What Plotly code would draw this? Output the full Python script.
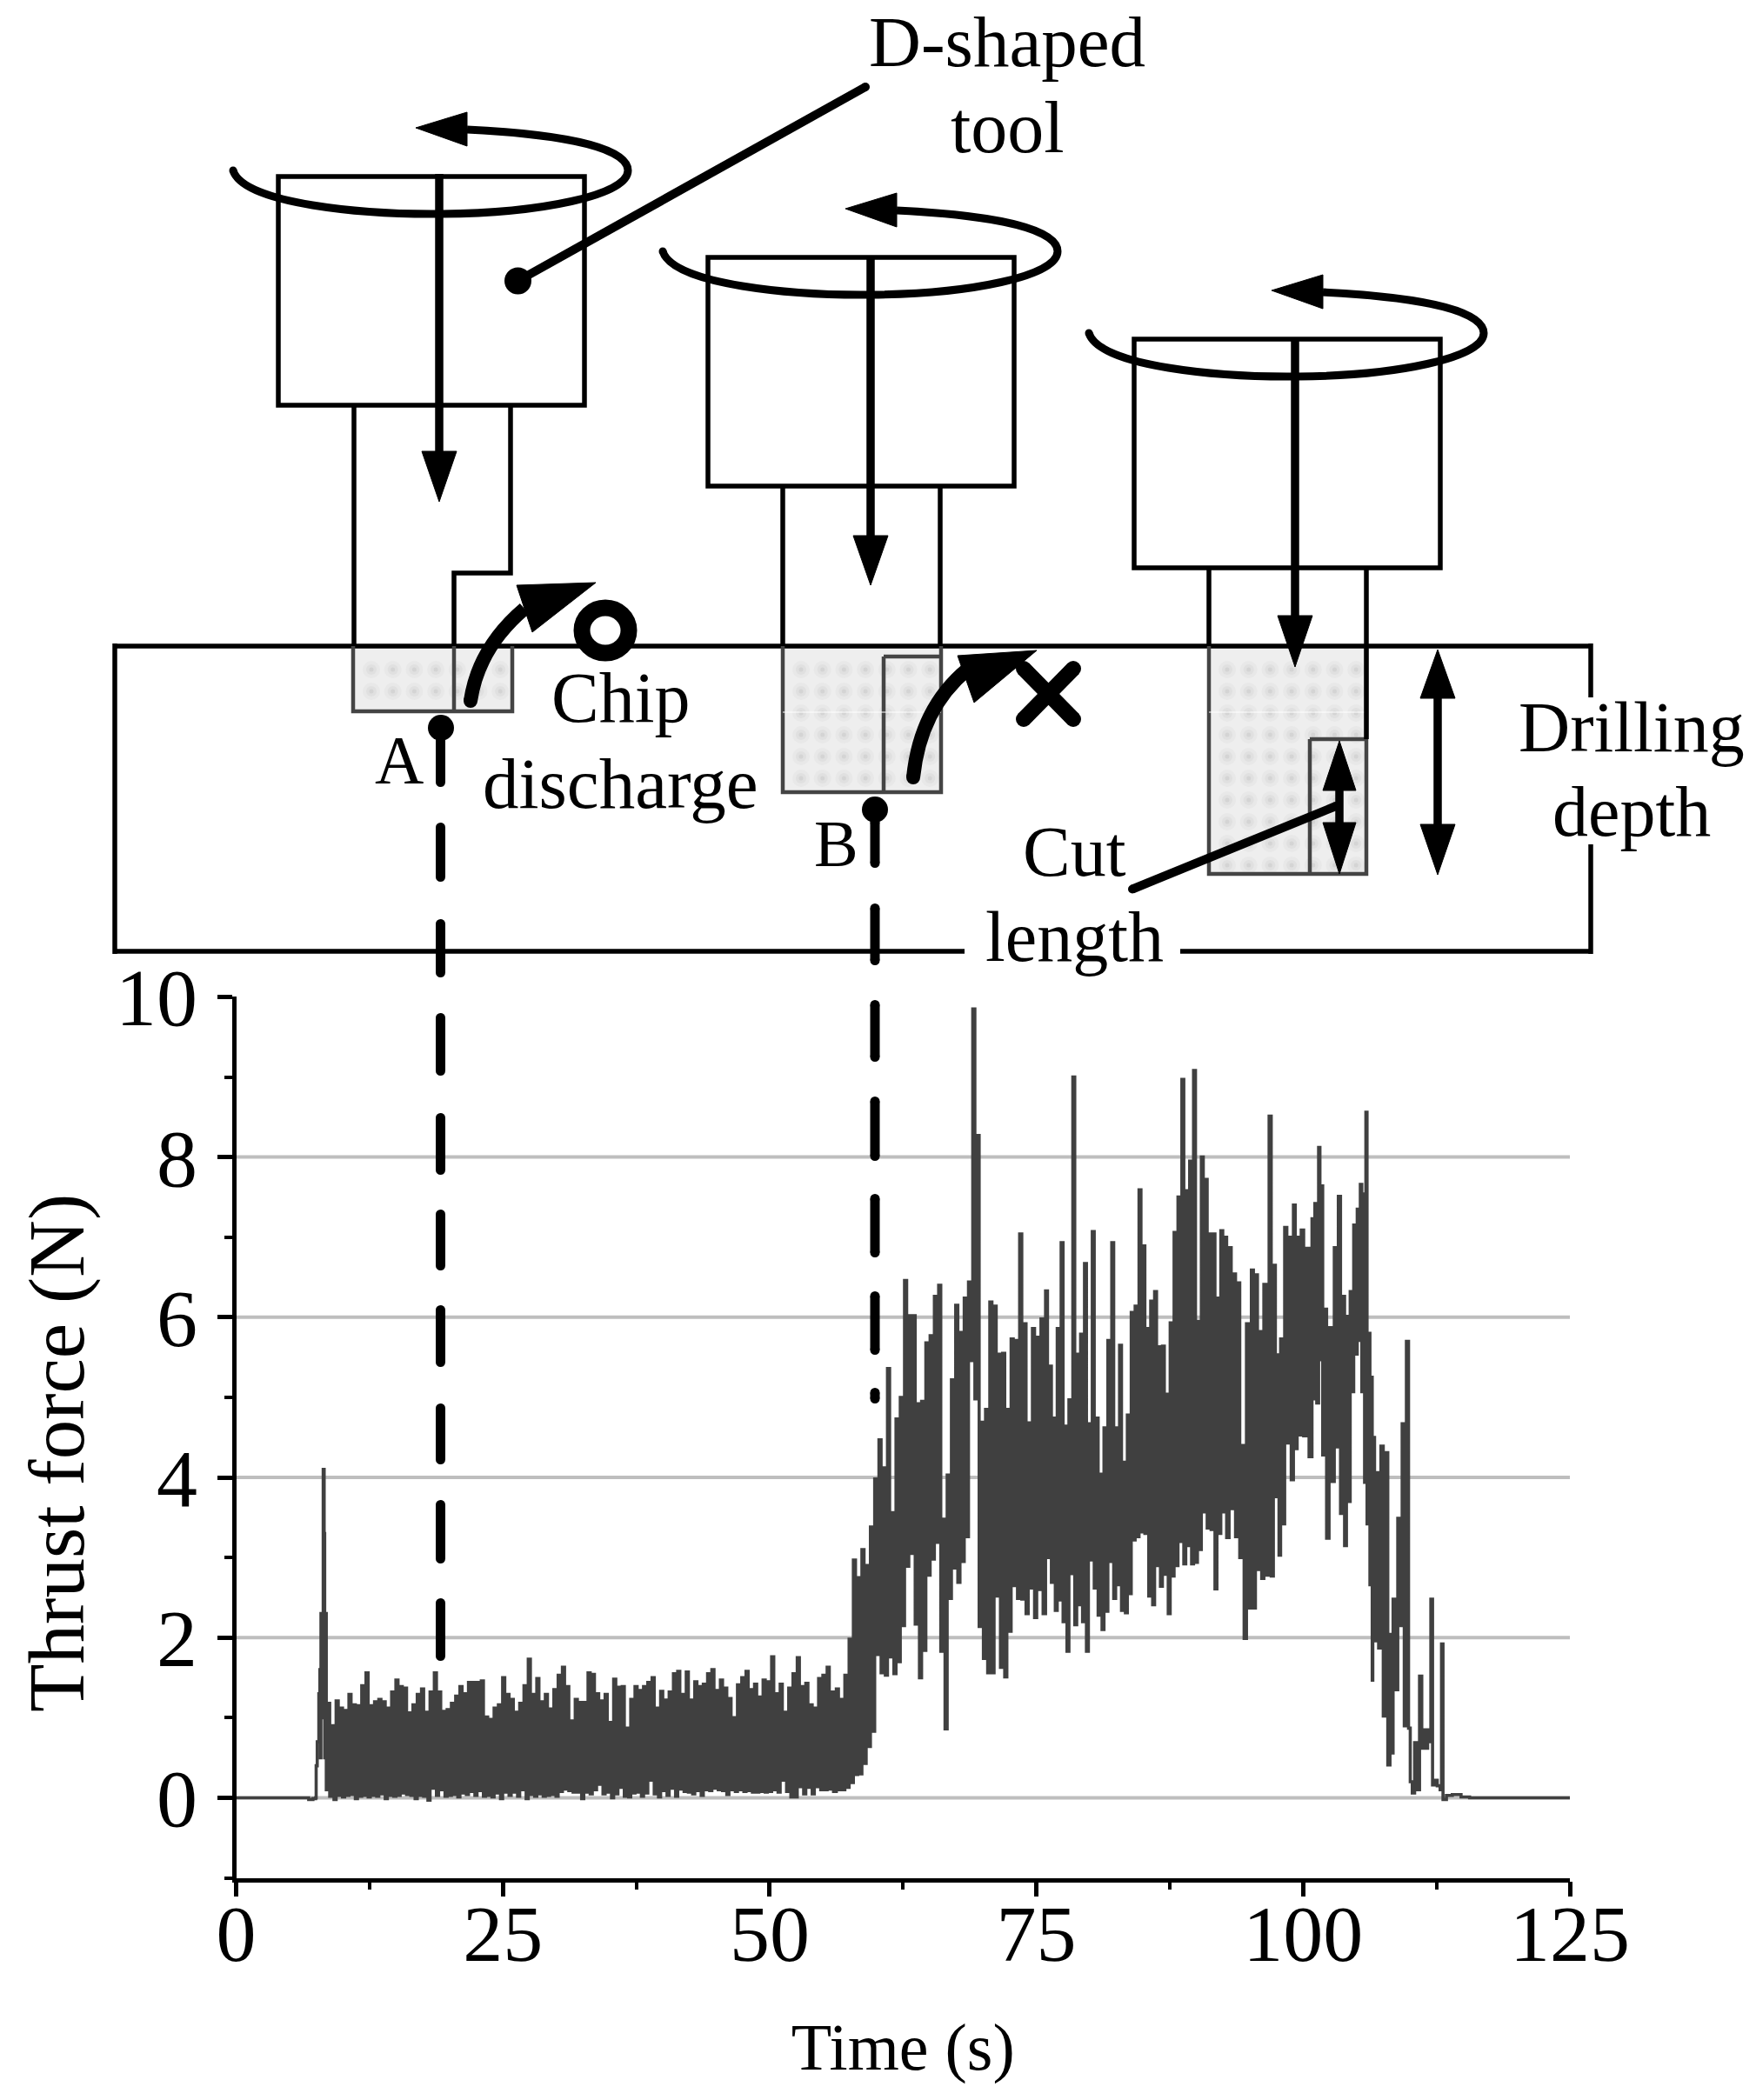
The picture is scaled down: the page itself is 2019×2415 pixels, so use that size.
import numpy as np
import plotly.graph_objects as go

# ---------- chart data ----------
lead_t = [0, 6.3, 6.8, 7.2, 7.45, 7.5, 7.6, 7.75, 7.85, 7.9, 7.95, 8.05, 8.16, 8.25, 8.3, 8.36, 8.45]
lead_f = [0, 0, -0.02, -0.01, 0, 0.4, 0.7, 1.3, 1.6, 0.5, 2.3, 1.0, 4.1, 3.3, 0.5, 2.3, 0.1]

steady_hi = [1.18, .9, 1.21, 1.12, 1.09, 1.29, 1.16, 1.15, 1.4, 1.56, 1.15, 1.2, 1.23, 1.2, 1.12, 1.32, 1.47, 1.39,
             1.37, 1.06, 1.16, 1.29, 1.36, 1.07, 1.32, 1.56, 1.32, 1.08, 1.1, 1.18, 1.27, 1.39, 1.3, 1.44, 1.44, 1.44,
             1.46, 1.01, .98, 1.12, 1.16, 1.5, 1.29, 1.23, 1.07, 1.18, 1.4, 1.73, 1.29, 1.49, 1.2, 1.29, 1.11, 1.35,
             1.53, 1.63,
             1.39, .96, 1.23, 1.19, 1.19, 1.56, 1.54, 1.3, 1.21, 1.29, .94, 1.48, 1.38, 1.39, .87, 1.23, 1.39, 1.34,
             1.39, 1.44, 1.5, 1.12, 1.33, 1.22, 1.32, 1.55, 1.58, 1.29, 1.57, 1.22, 1.45, 1.39, 1.42, 1.55, 1.6, 1.34,
             1.47, 1.37, 1.24, 1.0, 1.41, 1.5, 1.58, 1.35, 1.42, 1.26, 1.47, 1.45, 1.76, 1.3, 1.42, 1.07, 1.37, 1.55,
             1.75, 1.39, 1.43, 1.16, 1.12, 1.49, 1.53, 1.63, 1.32]
steady_lo = [.02, -.02, .03, .01, .03, .04, -.01, .02, .03, .01, .03, .02, .05, -.01, .03, .02, .03, .06,
             .04, .03, -.01, .03, .02, -.03, .12, .03, .1, .02, .03, .04, .01, .06, .04, .08, .03, .09,
             .02, .03, .01, .06, -.01, .07, .03, .07, .02, .1, -.01, .04, .02, .05, .02, .03, .04, .02,
             .08, .11,
             .09, .07, .07, -.01, .07, .05, .1, .17, .05, .07, 0, .05, .13, .02, .01, .06, .07, .02,
             .06, .22, .05, .01, .09, .03, .12, .02, .11, .08, .07, .05, .09, .03, .1, .09, .12, .1,
             .09, .04, .1, .08, .1, .08, .09, .07, .07, .08, .07, .08, .1, .07, .22, .08, .01, .01,
             .14, .05, .13, .05, .14, .1, .1, .11, .08]

rise_hi = [1.36, 1.23, 1.53, 1.98, 2.97, 2.75, 3.1, 2.9, 3.38, 3.98, 4.47, 4.12, 5.36, 3.56, 4.73, 5.0, 6.46, 6.02,
           6.02, 4.92, 4.95, 5.68, 5.77, 6.26, 6.4, 3.48, 4.03, 5.22, 6.15, 5.81, 6.24, 6.44, 9.85, 8.27, 4.69, 4.85,
           6.19, 6.14, 5.54, 5.55, 4.85, 5.73, 5.71, 7.04, 5.92, 4.68, 5.86, 5.75, 5.98]
rise_lo = [.1, .1, .13, .19, .29, .3, .43, .64, .83, 1.79, 1.56, 1.53, 1.76, 1.55, 1.7, 2.15, 2.89, 3.05,
           2.17, 1.5, 1.84, 2.78, 2.98, 3.19, 1.83, .86, 2.49, 2.87, 2.69, 2.95, 3.26, 5.46, 4.98, 2.14, 1.74, 1.56,
           1.56, 2.52, 1.63, 1.51, 2.08, 2.65, 2.49, 2.48, 2.3, 2.62, 2.25, 2.6, 2.3]

mid_hi = [6.33, 5.39, 4.74, 5.86, 6.93, 4.64, 4.97, 9.0, 5.54, 5.79, 6.67, 4.67, 7.07, 4.74, 4.04, 4.62, 5.71, 6.93,
          4.62, 5.65, 4.19, 4.78, 6.06, 6.14, 7.59, 6.89, 5.86, 6.2, 6.32, 5.63, 5.64, 5.04, 5.93, 7.06, 7.5, 8.97,
          7.58, 7.95, 9.08, 5.95, 8.0, 7.72, 7.04, 7.04, 6.24, 7.08, 7.0]
mid_lo = [3.0, 2.69, 2.34, 2.47, 2.2, 1.83, 2.8, 2.16, 2.41, 2.2, 1.83, 2.97, 2.62, 2.28, 2.1, 2.33, 2.95, 2.49,
          2.66, 2.34, 2.31, 2.55, 3.22, 3.26, 3.32, 3.3, 2.52, 2.41, 2.9, 2.64, 2.79, 2.3, 2.77, 2.9, 3.2, 2.92,
          3.15, 2.92, 2.94, 3.1, 3.57, 3.37, 3.35, 2.61, 3.3, 3.57, 3.25]

late_t = [93.06, 93.46, 93.87, 94.25, 94.69, 95.15, 95.53, 95.91, 96.32, 96.81, 97.21, 97.59, 97.89, 98.27, 98.68,
          99.09, 99.44, 99.82, 100.28, 100.83, 101.10, 101.45, 101.70, 101.97, 102.43, 102.92, 103.30, 103.71, 104.06,
          104.41, 104.74, 105.07, 105.36, 105.64, 105.88, 106.10, 106.42, 106.53, 106.86, 107.29, 107.73, 108.14,
          108.43, 108.87, 109.28, 109.68]
late_hi = [6.87, 6.54, 6.43, 4.4, 5.92, 6.59, 6.53, 5.82, 6.41, 8.51, 6.65, 5.53, 5.73, 7.12, 7.0, 7.4, 7.0, 7.09,
           6.86, 7.23, 7.42, 8.12, 7.64, 6.1, 5.87, 6.87, 7.51, 6.26, 6.01, 6.32, 7.15, 7.35, 7.66, 7.54, 8.56, 5.8,
           5.25, 4.5, 4.06, 4.39, 4.31, 2.04, 2.48, 3.49, 4.67, 5.7]
late_lo = [3.61, 3.26, 3.0, 1.99, 2.37, 2.37, 2.85, 2.74, 2.78, 2.77, 3.76, 3.03, 3.42, 4.43, 3.97, 4.36, 4.53, 4.52,
           4.26, 4.98, 4.93, 5.47, 4.28, 3.24, 3.95, 4.38, 3.55, 3.15, 3.7, 5.07, 5.54, 5.71, 5.07, 3.94, 3.42, 2.66,
           1.47, 1.96, 1.87, 1.02, .41, .56, 1.35, 2.15, .9, .87]

tail_t = [110.04, 110.23, 110.45, 110.72, 110.91, 111.12, 111.31, 111.53, 111.67, 111.8, 111.97, 112.13, 112.35,
          112.57, 112.84, 112.97, 113.11, 113.43, 113.98, 114.8, 115.6, 125]
tail_f = [.2, .06, .69, .1, 1.52, .62, .85, .62, .85, .7, 2.48, .16, .22, .15, .1, 1.92, -.02, .03, .04, .01, 0, 0]

x_ticks_major = 25
y_ticks_major = 2
grid_values = [0, 2, 4, 6, 8]


def zigzag(t, hi, lo):
    xs, ys = [], []
    n = len(t)
    for i in range(n):
        step = (t[i + 1] - t[i]) if i + 1 < n else (t[i] - t[i - 1])
        xs += [t[i], t[i] + step / 2]
        ys += [hi[i], lo[i]]
    return xs, ys


parts = [(lead_t, lead_f),
         zigzag(list(np.linspace(8.57, 55.79, len(steady_hi))), steady_hi, steady_lo),
         zigzag(list(np.linspace(56.25, 75.43, len(rise_hi))), rise_hi, rise_lo),
         zigzag(list(np.linspace(75.86, 92.65, len(mid_hi))), mid_hi, mid_lo),
         zigzag(late_t, late_hi, late_lo),
         (tail_t, tail_f)]
time_s = [v for p in parts for v in p[0]]
thrust = [v for p in parts for v in p[1]]

W, H = 2019, 2415
FONT = "Liberation Serif"
L, R, T, B = 271.5, 1805, 1146.4, 2159.6
fig = go.Figure()
fig.add_trace(go.Scatter(x=time_s, y=thrust, mode="lines", line=dict(color="#404040", width=3.6, shape="hv"),
                         showlegend=False, hoverinfo="skip", xaxis="x", yaxis="y"))

for v in grid_values:
    fig.add_shape(type="line", xref="x domain", yref="y", x0=0, x1=1, y0=v, y1=v,
                  line=dict(color="#BEBEBE", width=4), layer="below")

shapes = []
LW = 5.5


def S(**k):
    k.setdefault("xref", "x2")
    k.setdefault("yref", "y2")
    k.setdefault("layer", "above")
    shapes.append(k)


def seg(x0, y0, x1, y1, w=LW, color="black", caps=False):
    S(type="line", x0=x0, y0=y0, x1=x1, y1=y1, line=dict(color=color, width=w))
    if caps:
        for a, b in ((x0, y0), (x1, y1)):
            S(type="circle", x0=a - w / 2, x1=a + w / 2, y0=b - w / 2, y1=b + w / 2,
              fillcolor=color, line=dict(width=0))


def tri(*p):
    path = "M " + " L ".join(f"{a},{b}" for a, b in p) + " Z"
    S(type="path", path=path, fillcolor="black", line=dict(color="black", width=1))


def dot(x, y, r):
    S(type="circle", x0=x - r, x1=x + r, y0=y - r, y1=y + r, fillcolor="black", line=dict(width=0))


def rect(x0, y0, x1, y1, w=LW):
    S(type="rect", x0=x0, y0=y0, x1=x1, y1=y1, line=dict(color="black", width=w))


def tool(dx, dy):
    rect(320 + dx, 203 + dy, 672 + dx, 466 + dy)
    S(type="path",
      path=f"M {268+dx},{196+dy} C {280+dx},{235+dy} {420+dx},{247+dy} {508+dx},{246+dy} "
           f"C {620+dx},{245+dy} {722+dx},{225+dy} {722+dx},{196+dy} "
           f"C {722+dx},{165+dy} {620+dx},{153+dy} {537+dx},{149+dy}",
      line=dict(color="black", width=9))
    dot(268 + dx, 196 + dy, 4.5)
    tri((478 + dx, 147 + dy), (537 + dx, 129 + dy), (537 + dx, 168 + dy))


def hole(x0, x1, bottom):
    S(type="rect", x0=x0, x1=x1, y0=743, y1=bottom, fillcolor="#EEEEEE", line=dict(width=0), layer="below")


def v_arrow(x, y0, tip, base, hw=20, w=9.5):
    seg(x, y0, x, base, w)
    tri((x - hw, base), (x + hw, base), (x, tip))


# work piece
seg(132, 743, 1829, 743)
seg(132, 1094, 1109, 1094)
seg(1357, 1094, 1829, 1094)
seg(132, 740, 132, 1097)
seg(1829, 740, 1829, 802)
seg(1829, 971, 1829, 1097)

# holes
hole(406, 589, 818)
hole(900, 1082, 911)
hole(1390, 1571, 1005)
GR = "#444444"
for x0, x1, b in ((406, 589, 818), (900, 1082, 911), (1390, 1571, 1005)):
    S(type="path", path=f"M {x0},743 L {x0},{b} L {x1},{b} L {x1},743", line=dict(color=GR, width=4.5))
seg(522, 743, 522, 818, 4.5, GR)
seg(1016, 755, 1016, 911, 4.5, GR)
seg(1016, 755, 1082, 755, 4.5, GR)
seg(1506, 850, 1506, 1005, 4.5, GR)
seg(1506, 850, 1571, 850, 4.5, GR)
seg(900, 819, 1082, 819, 1, "white")
seg(1390, 819, 1571, 819, 1, "white")

# tools
tool(0, 0)
tool(494, 93)
tool(984, 187)
seg(407, 466, 407, 743)
S(type="path", path="M 587,466 L 587,659 L 522,659 L 522,743", line=dict(color="black", width=LW))
seg(900, 559, 900, 743)
seg(1081, 559, 1081, 743)
seg(1390, 653, 1390, 743)
seg(1571, 653, 1571, 850)

# feed arrows
v_arrow(505, 200, 577, 519)
v_arrow(1001, 296, 673, 616)
v_arrow(1489, 389, 767, 708)

# chip arrows
S(type="path", path="M 541,806 Q 550,745 603,700", line=dict(color="black", width=16))
dot(541, 806, 8)
tri((685, 670), (594, 673), (612, 727))
S(type="path", path="M 1050,894 Q 1058,815 1112,770", line=dict(color="black", width=16))
dot(1050, 894, 8)
tri((1192, 748), (1101, 754), (1120, 808))

# good / bad marks
S(type="circle", x0=669, x1=723, y0=699, y1=751, fillcolor="white", line=dict(color="black", width=19))
seg(1177, 769, 1234, 827, 18, caps=True)
seg(1234, 769, 1177, 827, 18, caps=True)

# leaders
dot(595.5, 323, 15.5)
seg(595.5, 323, 995, 100, 10, caps=True)
seg(1302, 1022.5, 1536, 927, 10, caps=True)

# A / B dashed guides
dot(507, 837, 15)
dot(1006, 931, 15)
dashes_a = [(846, 905), (946, 1014), (1057, 1124), (1165, 1237), (1280, 1351), (1391, 1461), (1501, 1572),
            (1614, 1684), (1725, 1798), (1838, 1910)]
dashes_b = [(940, 998), (1039, 1110), (1150, 1221), (1261, 1335), (1373, 1446), (1485, 1558), (1596, 1614)]
for a, b in dashes_a:
    seg(506.5, a + 5.5, 506.5, b - 5.5, 11, caps=True)
for a, b in dashes_b:
    seg(1006, a + 5.5, 1006, b - 5.5, 11, caps=True)

# double arrows
seg(1653, 803, 1653, 948, 9.5)
tri((1633, 803), (1673, 803), (1653, 747))
tri((1633, 948), (1673, 948), (1653, 1006))
seg(1540, 909, 1540, 946, 9.5)
tri((1521, 909), (1559, 909), (1540, 852))
tri((1521, 946), (1559, 946), (1540, 1005))

# lattice texture inside the holes
hx, hy = [], []
for x0, x1, b in ((406, 589, 818), (900, 1082, 911), (1390, 1571, 1005)):
    for xx in np.arange(x0 + 21, x1 - 4, 24.7):
        for yy in np.arange(770, b - 4, 25):
            hx.append(float(xx))
            hy.append(float(yy))
for size, colour in ((20, "#E8E8E8"), (12, "#E0E0E0"), (5, "#D4D4D4")):
    fig.add_trace(go.Scatter(x=hx, y=hy, mode="markers", xaxis="x2", yaxis="y2", showlegend=False, hoverinfo="skip",
                             marker=dict(size=size, color=colour, line=dict(width=0))))

notes = [("D-shaped", 1158, 48, 83), ("tool", 1158, 146, 84), ("Chip", 713, 802, 82), ("discharge", 713, 901, 83),
         ("A", 459, 873, 78), ("B", 961, 970, 76), ("Cut", 1235, 979, 82), ("length", 1235, 1077, 82),
         ("Drilling", 1876, 836, 82), ("depth", 1876, 933, 82)]
annotations = [dict(text=t, x=x, y=y, xref="x2", yref="y2", xanchor="center", yanchor="middle", showarrow=False,
                    font=dict(family=FONT, size=s, color="black")) for t, x, y, s in notes]
annotations.append(dict(text="Thrust force (N)", x=65, y=1671, xref="x2", yref="y2", xanchor="center",
                        yanchor="middle", textangle=-90, showarrow=False,
                        font=dict(family=FONT, size=91, color="black")))

fig.update_layout(
    width=W, height=H, margin=dict(l=0, r=0, t=0, b=0, autoexpand=False), autosize=False,
    paper_bgcolor="white", plot_bgcolor="rgba(0,0,0,0)", showlegend=False,
    shapes=list(fig.layout.shapes) + shapes, annotations=annotations,
    font=dict(family=FONT, color="black"),
    xaxis=dict(domain=[L / W, R / W], anchor="y", range=[0, 125], tick0=0, dtick=x_ticks_major, showgrid=False,
               zeroline=False, showline=True, linecolor="black", linewidth=4.5, ticks="outside", ticklen=17,
               tickwidth=4.5, tickcolor="black", tickfont=dict(family=FONT, size=92), ticklabelstandoff=-37,
               automargin=False,
               minor=dict(dtick=12.5, ticks="outside", ticklen=9, tickwidth=4, tickcolor="black", showgrid=False),
               title=dict(text="Time (s)", font=dict(family=FONT, size=76), standoff=55)),
    yaxis=dict(domain=[1 - B / H, 1 - T / H], anchor="x", range=[-1, 10], tick0=0, dtick=y_ticks_major,
               showgrid=False, zeroline=False, showline=True, linecolor="black", linewidth=4.5, ticks="outside",
               ticklen=17, tickwidth=4.5, tickcolor="black", tickfont=dict(family=FONT, size=94),
               ticklabelstandoff=4, automargin=False,
               minor=dict(dtick=1, ticks="outside", ticklen=9, tickwidth=4, tickcolor="black", showgrid=False)),
    xaxis2=dict(domain=[0, 1], anchor="y2", range=[0, W], visible=False, fixedrange=True),
    yaxis2=dict(domain=[0, 1], anchor="x2", range=[H, 0], visible=False, fixedrange=True),
)

fig.write_html("out.html", config=dict(displayModeBar=False),
               post_script="document.body.style.margin='0';document.body.style.overflow='hidden';")
